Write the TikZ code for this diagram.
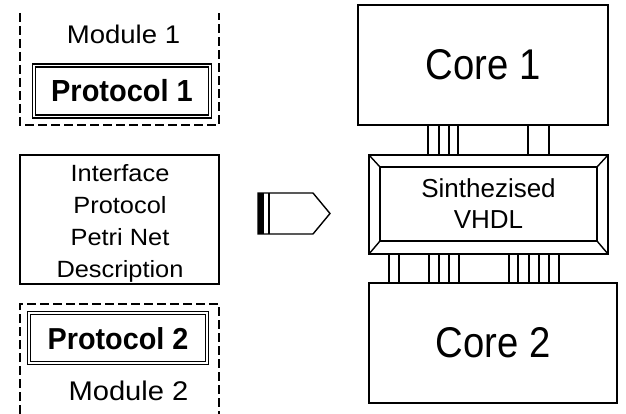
\documentclass[tikz,border=0pt]{standalone}
\usepackage{fontspec}
\setmainfont{Liberation Sans}
\newfontfamily\ifacefont[FakeStretch=1.08]{Liberation Sans}
\newfontfamily\modfont[FakeStretch=1.08]{Liberation Sans}
\newfontfamily\corefont[FakeStretch=0.89]{Liberation Sans}
\newfontfamily\protfont[FakeStretch=0.95]{Liberation Sans}
\begin{document}
\begin{tikzpicture}[x=1pt,y=-1pt,
  box/.style={draw, line width=1.7pt, inner sep=0pt, outer sep=0pt},
  dbox/.style={draw, double, double distance=1.7pt, line width=1.2pt, inner sep=0pt, outer sep=0pt},
  dashbox/.style={line width=1.8pt, dash pattern=on 9pt off 4pt},
  bus/.style={line width=1.4pt},
  lbl/.style={inner sep=0pt, outer sep=0pt}]
\useasboundingbox (0,0) rectangle (626,414);
\fill[white] (0,0) rectangle (626,414);

% Module 1
\draw[dashbox] (20,13) -- (20,125) -- (219,125) -- (219,13);
\node[lbl, font={\modfont\fontsize{25.5}{25.5}\selectfont}] (m1) at (123.5,34) {Module 1};
\node[dbox, minimum width=176pt, minimum height=51pt,
      font={\protfont\bfseries\fontsize{30.5}{30.5}\selectfont}] (p1) at (122,91) {Protocol 1};

% Interface description
\node[box, minimum width=199pt, minimum height=129pt] (iface) at (119.5,219.5) {};
\node[lbl, align=center, text depth=0pt,
      font={\ifacefont\fontsize{23.5}{31.7}\selectfont}] (ifacetext) at (120,221) {Interface\\Protocol\\Petri Net\\Description};

% Module 2
\draw[dashbox] (20,414) -- (20,304) -- (219,304) -- (219,414);
\node[dbox, minimum width=177.4pt, minimum height=50pt,
      font={\protfont\bfseries\fontsize{30.3}{30.3}\selectfont}] (p2) at (118,338.3) {Protocol 2};
\node[lbl, font={\modfont\fontsize{27}{27}\selectfont}] (m2) at (128.5,391) {Module 2};

% Arrow symbol
\draw[line width=1.4pt, line join=miter] (258,193) -- (313,193) -- (330,213.5) -- (313,234) -- (258,234) -- cycle;
\fill (258,193) rectangle (263.5,234);
\draw[line width=1.4pt] (269,193) -- (269,234);

% Core 1
\node[box, minimum width=250pt, minimum height=120pt,
      font={\corefont\fontsize{43}{43}\selectfont}] (core1) at (483,65) {Core 1};

% Synthesised VHDL
\node[box, minimum width=239pt, minimum height=99pt] (vhdl) at (488.5,204.5) {};
\node[box, minimum width=217pt, minimum height=74pt, align=center,
      font={\fontsize{26}{31}\selectfont}] (vhdlin) at (488.5,204) {Sinthezised\\VHDL};
\draw[line width=1.4pt] (vhdl.north west) -- (vhdlin.north west);
\draw[line width=1.4pt] (vhdl.north east) -- (vhdlin.north east);
\draw[line width=1.4pt] (vhdl.south west) -- (vhdlin.south west);
\draw[line width=1.4pt] (vhdl.south east) -- (vhdlin.south east);

% Core 2
\node[box, minimum width=248pt, minimum height=120pt,
      font={\corefont\fontsize{43}{43}\selectfont}] (core2) at (493,343) {Core 2};

% Bus lines
\foreach \x in {428,439,449,458,528,549}
  \draw[bus] (\x,0 |- core1.south) -- (\x,0 |- vhdl.north);
\foreach \x in {389,399,429,439,449,459,509,518,529,539,549,559}
  \draw[bus] (\x,0 |- vhdl.south) -- (\x,0 |- core2.north);
\end{tikzpicture}
\end{document}
